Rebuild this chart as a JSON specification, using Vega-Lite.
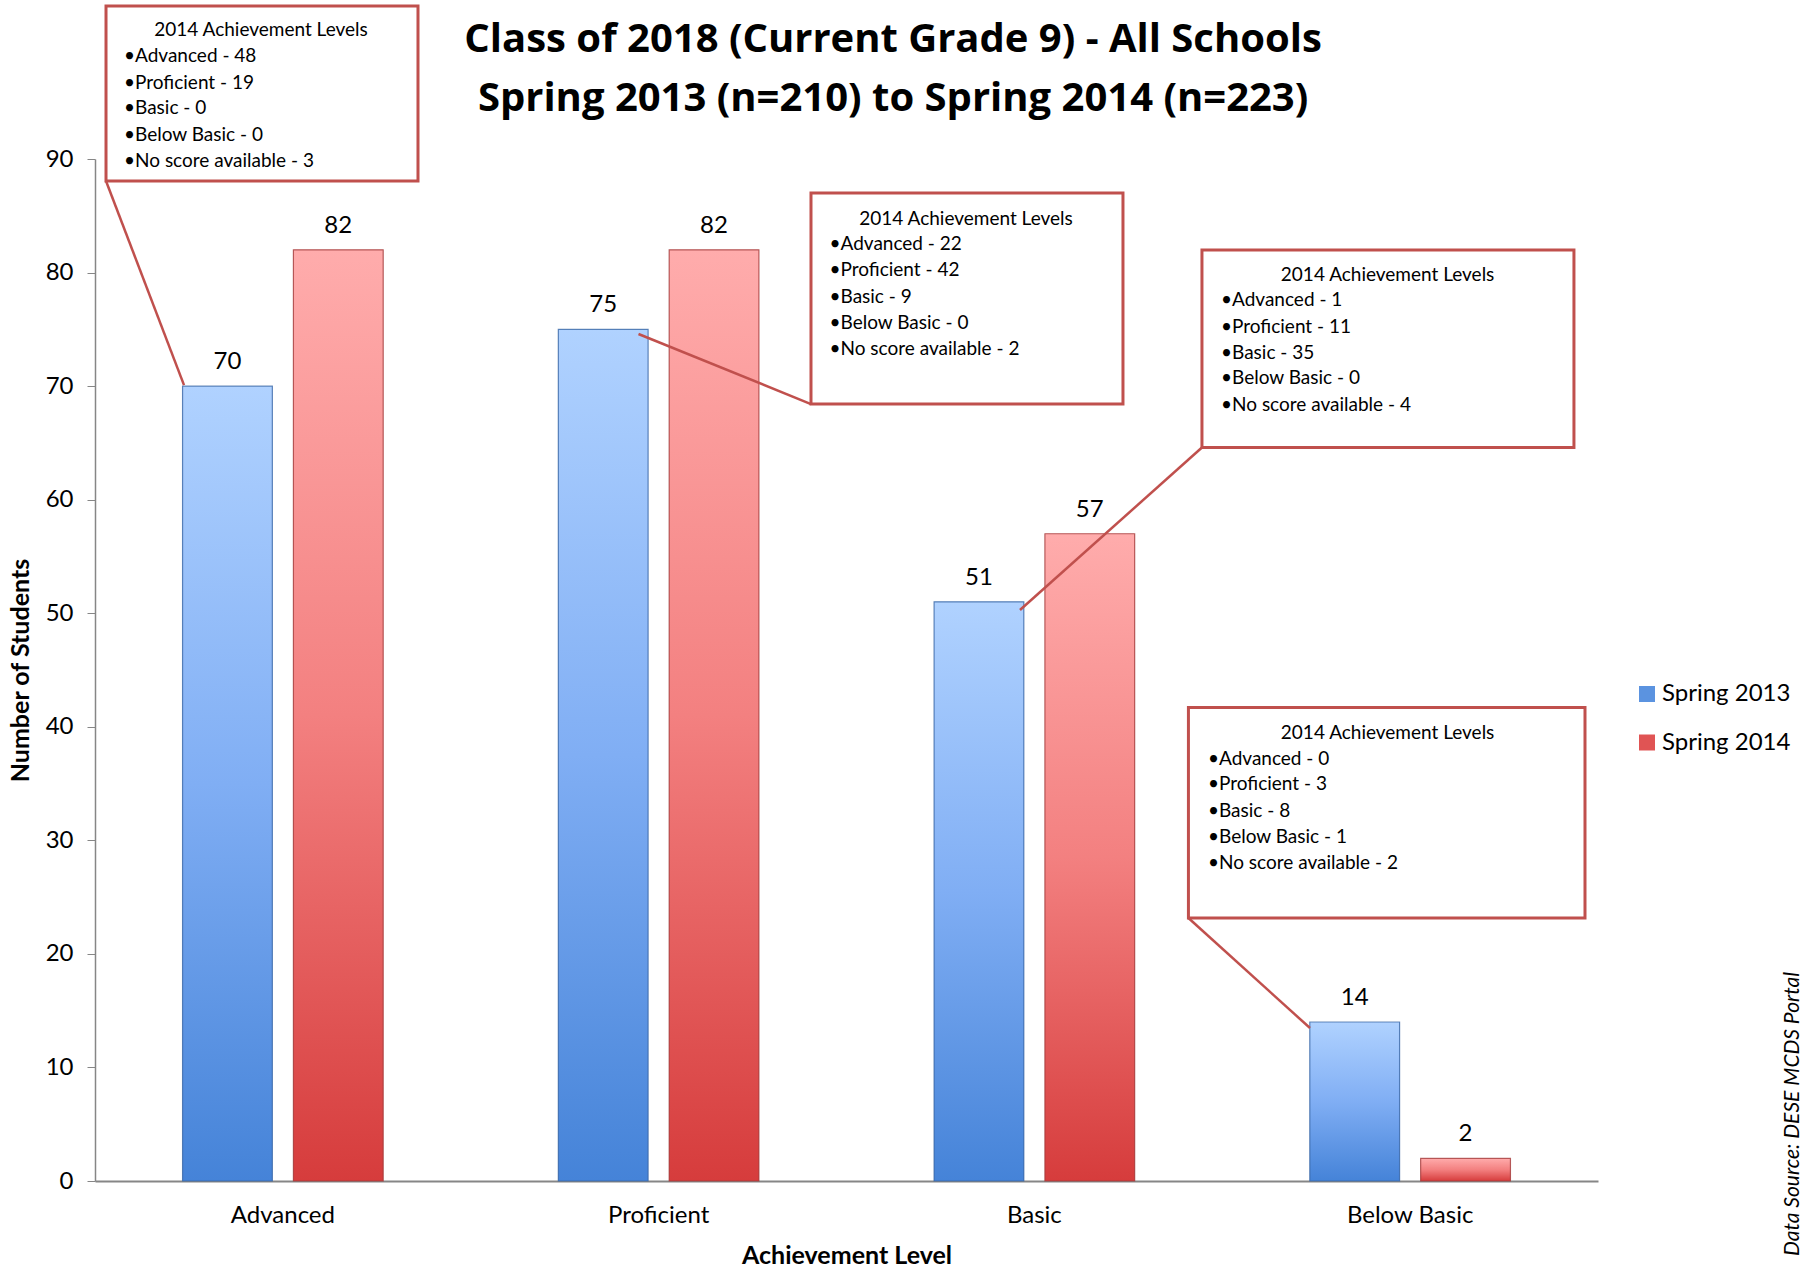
{
  "$schema": "https://vega.github.io/schema/vega-lite/v6.json",
  "width": 1503,
  "height": 1022,
  "autosize": {"type": "none"},
  "padding": {"left": 95, "top": 159, "right": 206, "bottom": 90},
  "background": "white",
  "config": {"font": "Lato", "view": {"stroke": null}},
  "datasets": {
    "bars": [
      {"level": "Advanced", "year": "Spring 2013", "n": 70},
      {"level": "Advanced", "year": "Spring 2014", "n": 82},
      {"level": "Proficient", "year": "Spring 2013", "n": 75},
      {"level": "Proficient", "year": "Spring 2014", "n": 82},
      {"level": "Basic", "year": "Spring 2013", "n": 51},
      {"level": "Basic", "year": "Spring 2014", "n": 57},
      {"level": "Below Basic", "year": "Spring 2013", "n": 14},
      {"level": "Below Basic", "year": "Spring 2014", "n": 2}
    ],
    "boxes": [
      {"x1": 0.0293, "x2": 0.8596, "y1": 103.47, "y2": 88.06},
      {"x1": 1.9055, "x2": 2.7358, "y1": 87.0, "y2": 68.42},
      {"x1": 2.946, "x2": 3.936, "y1": 81.98, "y2": 64.59},
      {"x1": 2.910, "x2": 3.9654, "y1": 41.70, "y2": 23.16}
    ],
    "leaders": [
      {"x1": 0.0293, "y1": 88.06, "x2": 0.2369, "y2": 70.09},
      {"x1": 1.9055, "y1": 68.42, "x2": 1.4464, "y2": 74.59},
      {"x1": 2.946, "y1": 64.59, "x2": 2.4617, "y2": 50.28},
      {"x1": 2.910, "y1": 23.16, "x2": 3.2335, "y2": 13.47}
    ],
    "boxTitles": [
      {"x": 0.4418, "y": 100.83, "t": "2014 Achievement Levels"},
      {"x": 2.318, "y": 84.23, "t": "2014 Achievement Levels"},
      {"x": 3.440, "y": 79.25, "t": "2014 Achievement Levels"},
      {"x": 3.440, "y": 38.92, "t": "2014 Achievement Levels"}
    ],
    "bullets": [
      {"x": 0.0772, "y": 98.54, "t": "•Advanced - 48"},
      {"x": 0.0772, "y": 96.16, "t": "•Proficient - 19"},
      {"x": 0.0772, "y": 93.96, "t": "•Basic - 0"},
      {"x": 0.0772, "y": 91.62, "t": "•Below Basic - 0"},
      {"x": 0.0772, "y": 89.29, "t": "•No score available - 3"},
      {"x": 1.9547, "y": 81.98, "t": "•Advanced - 22"},
      {"x": 1.9547, "y": 79.69, "t": "•Proficient - 42"},
      {"x": 1.9547, "y": 77.31, "t": "•Basic - 9"},
      {"x": 1.9547, "y": 75.03, "t": "•Below Basic - 0"},
      {"x": 1.9547, "y": 72.78, "t": "•No score available - 2"},
      {"x": 2.9967, "y": 77.05, "t": "•Advanced - 1"},
      {"x": 2.9967, "y": 74.71, "t": "•Proficient - 11"},
      {"x": 2.9967, "y": 72.38, "t": "•Basic - 35"},
      {"x": 2.9967, "y": 70.18, "t": "•Below Basic - 0"},
      {"x": 2.9967, "y": 67.81, "t": "•No score available - 4"},
      {"x": 2.962, "y": 36.63, "t": "•Advanced - 0"},
      {"x": 2.962, "y": 34.39, "t": "•Proficient - 3"},
      {"x": 2.962, "y": 32.06, "t": "•Basic - 8"},
      {"x": 2.962, "y": 29.73, "t": "•Below Basic - 1"},
      {"x": 2.962, "y": 27.48, "t": "•No score available - 2"}
    ],
    "titles": [
      {"x": 2.124, "y": 99.39, "t": "Class of 2018 (Current Grade 9) - All Schools"},
      {"x": 2.124, "y": 94.2, "t": "Spring 2013 (n=210) to Spring 2014 (n=223)"}
    ],
    "source": [
      {"x": 4.5455, "y": 18.4, "t": "Data Source: DESE MCDS Portal"}
    ]
  },
  "layer": [
    {
      "data": {"name": "bars"},
      "encoding": {
        "x": {
          "field": "level", "type": "nominal",
          "sort": ["Advanced", "Proficient", "Basic", "Below Basic"],
          "scale": {"paddingInner": 0, "paddingOuter": 0},
          "axis": {
            "title": "Achievement Level", "labelAngle": 0, "ticks": false,
            "domainColor": "#868686", "domainWidth": 2,
            "labelFontSize": 24, "labelColor": "#000", "labelPadding": 22,
            "titleFontSize": 25, "titleFontWeight": "bold", "titleColor": "#000", "titlePadding": 16
          }
        },
        "xOffset": {"field": "year", "type": "nominal", "scale": {"domain": ["Spring 2013", "Spring 2014"], "paddingInner": 0.19, "paddingOuter": 0.79}},
        "y": {
          "field": "n", "type": "quantitative",
          "scale": {"domain": [0, 90], "nice": false},
          "axis": {
            "title": "Number of Students", "grid": false,
            "values": [0, 10, 20, 30, 40, 50, 60, 70, 80, 90],
            "domainColor": "#868686", "domainWidth": 1.5, "tickColor": "#868686", "tickSize": 8,
            "labelFontSize": 24, "labelColor": "#000", "labelPadding": 14,
            "titleFontSize": 25, "titleFontWeight": "bold", "titleColor": "#000", "titlePadding": 12
          }
        }
      },
      "layer": [
        {
          "mark": {"type": "bar"},
          "encoding": {
            "color": {
              "field": "year", "type": "nominal",
              "scale": {"domain": ["Spring 2013", "Spring 2014"], "range": ["#5b93e0", "#e05454"]},
              "legend": {
                "title": null, "orient": "none", "legendX": 1540, "legendY": 523,
                "symbolType": "square", "symbolSize": 256, "symbolStrokeWidth": 0,
                "labelFontSize": 24, "labelColor": "#000", "rowPadding": 24.5, "labelOffset": 3
              }
            }
          }
        },
        {
          "transform": [{"filter": "datum.year === 'Spring 2013'"}],
          "mark": {
            "type": "bar", "strokeWidth": 1.2, "stroke": "#3a66a3", "strokeOpacity": 0.75,
            "fill": {"gradient": "linear", "x1": 0, "y1": 0, "x2": 0, "y2": 1,
              "stops": [{"offset": 0, "color": "#b0d2ff"}, {"offset": 0.5, "color": "#80aef4"}, {"offset": 1, "color": "#4583d8"}]}
          }
        },
        {
          "transform": [{"filter": "datum.year === 'Spring 2014'"}],
          "mark": {
            "type": "bar", "strokeWidth": 1.2, "stroke": "#a03c3c", "strokeOpacity": 0.75,
            "fill": {"gradient": "linear", "x1": 0, "y1": 0, "x2": 0, "y2": 1,
              "stops": [{"offset": 0, "color": "#ffacac"}, {"offset": 0.5, "color": "#f38080"}, {"offset": 1, "color": "#d63c3c"}]}
          }
        },
        {
          "mark": {"type": "text", "fontSize": 24, "baseline": "alphabetic", "dy": -17, "color": "#000"},
          "encoding": {"text": {"field": "n", "type": "quantitative"}}
        }
      ]
    },
    {
      "layer": [
        {
          "data": {"name": "leaders"},
          "mark": {"type": "rule", "color": "#c0504d", "strokeWidth": 2.5},
          "encoding": {
            "x": {"field": "x1", "type": "quantitative", "scale": {"domain": [0, 4], "nice": false, "zero": false}, "axis": null},
            "x2": {"field": "x2"},
            "y": {"field": "y1", "type": "quantitative", "scale": {"domain": [0, 90], "nice": false}},
            "y2": {"field": "y2"}
          }
        },
        {
          "data": {"name": "boxes"},
          "mark": {"type": "rect", "fill": "white", "stroke": "#c0504d", "strokeWidth": 3},
          "encoding": {
            "x": {"field": "x1", "type": "quantitative", "scale": {"domain": [0, 4], "nice": false, "zero": false}, "axis": null},
            "x2": {"field": "x2"},
            "y": {"field": "y1", "type": "quantitative", "scale": {"domain": [0, 90], "nice": false}},
            "y2": {"field": "y2"}
          }
        },
        {
          "data": {"name": "boxTitles"},
          "mark": {"type": "text", "align": "center", "baseline": "alphabetic", "fontSize": 19, "color": "#000"},
          "encoding": {
            "x": {"field": "x", "type": "quantitative", "scale": {"domain": [0, 4], "nice": false, "zero": false}, "axis": null},
            "y": {"field": "y", "type": "quantitative", "scale": {"domain": [0, 90], "nice": false}},
            "text": {"field": "t"}
          }
        },
        {
          "data": {"name": "bullets"},
          "mark": {"type": "text", "align": "left", "baseline": "alphabetic", "fontSize": 19, "color": "#000"},
          "encoding": {
            "x": {"field": "x", "type": "quantitative", "scale": {"domain": [0, 4], "nice": false, "zero": false}, "axis": null},
            "y": {"field": "y", "type": "quantitative", "scale": {"domain": [0, 90], "nice": false}},
            "text": {"field": "t"}
          }
        },
        {
          "data": {"name": "titles"},
          "mark": {"type": "text", "align": "center", "baseline": "alphabetic", "font": "Open Sans", "fontSize": 40, "fontWeight": "bold", "color": "#000"},
          "encoding": {
            "x": {"field": "x", "type": "quantitative", "scale": {"domain": [0, 4], "nice": false, "zero": false}, "axis": null},
            "y": {"field": "y", "type": "quantitative", "scale": {"domain": [0, 90], "nice": false}},
            "text": {"field": "t"}
          }
        },
        {
          "data": {"name": "source"},
          "mark": {"type": "text", "align": "right", "baseline": "bottom", "angle": 270, "fontSize": 21, "fontStyle": "italic", "color": "#000"},
          "encoding": {
            "x": {"field": "x", "type": "quantitative", "scale": {"domain": [0, 4], "nice": false, "zero": false}, "axis": null},
            "y": {"field": "y", "type": "quantitative", "scale": {"domain": [0, 90], "nice": false}},
            "text": {"field": "t"}
          }
        }
      ]
    }
  ],
  "resolve": {"scale": {"x": "independent"}}
}
